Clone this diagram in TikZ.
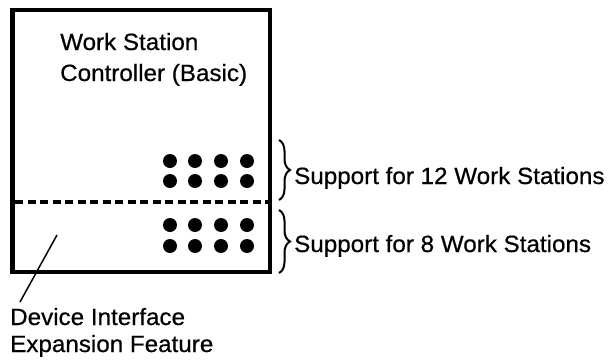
\documentclass[tikz,border=0pt]{standalone}
\usepackage{fontspec}
\setmainfont{Liberation Sans}[FakeStretch=1.03,FakeBold=0.6]
\usetikzlibrary{decorations.pathreplacing}
\begin{document}
\begin{tikzpicture}[x=1pt,y=-1pt,
  lbl/.style={inner sep=0pt,anchor=base west,font=\fontsize{23.5}{28}\selectfont},
  dot/.style={circle,fill=black,inner sep=0pt,minimum size=14pt},
  bracestyle/.style={decorate,decoration={brace,amplitude=11pt},line width=2pt}]
\useasboundingbox (0,0) rectangle (611,362);
% main box
\draw[line width=4.3pt] (12.5,10) rectangle (270,272);
\coordinate (dl) at (15,202);
\coordinate (dr) at (268,202);
\draw[line width=3.5pt,dash pattern=on 8pt off 4.5pt] (dl) -- (dr);
% title
\node[lbl] (t1) at (60,50) {Work Station};
\node[lbl] (t2) at (60,81) {Controller (Basic)};
% dots
\foreach \x [count=\i] in {170,195,221,247}{
  \foreach \y [count=\j] in {161,181,225,246}{
    \node[dot] (d\i\j) at (\x,\y) {};
  }
}
% braces
\coordinate (b1t) at (279,140);
\coordinate (b1b) at (279,200);
\coordinate (b2t) at (279,210);
\coordinate (b2b) at (279,273);
\draw[bracestyle] (b1t) -- (b1b);
\draw[bracestyle] (b2t) -- (b2b);
\node[lbl] (s1) at (294,184) {Support for 12 Work Stations};
\node[lbl] (s2) at (294,252) {Support for 8 Work Stations};
% leader
\coordinate (la) at (57,235);
\coordinate (lb) at (20,302);
\draw[line width=1.5pt] (la) -- (lb);
\node[lbl] (e1) at (10,325) {Device Interface};
\node[lbl] (e2) at (10,352) {Expansion Feature};
\end{tikzpicture}
\end{document}
